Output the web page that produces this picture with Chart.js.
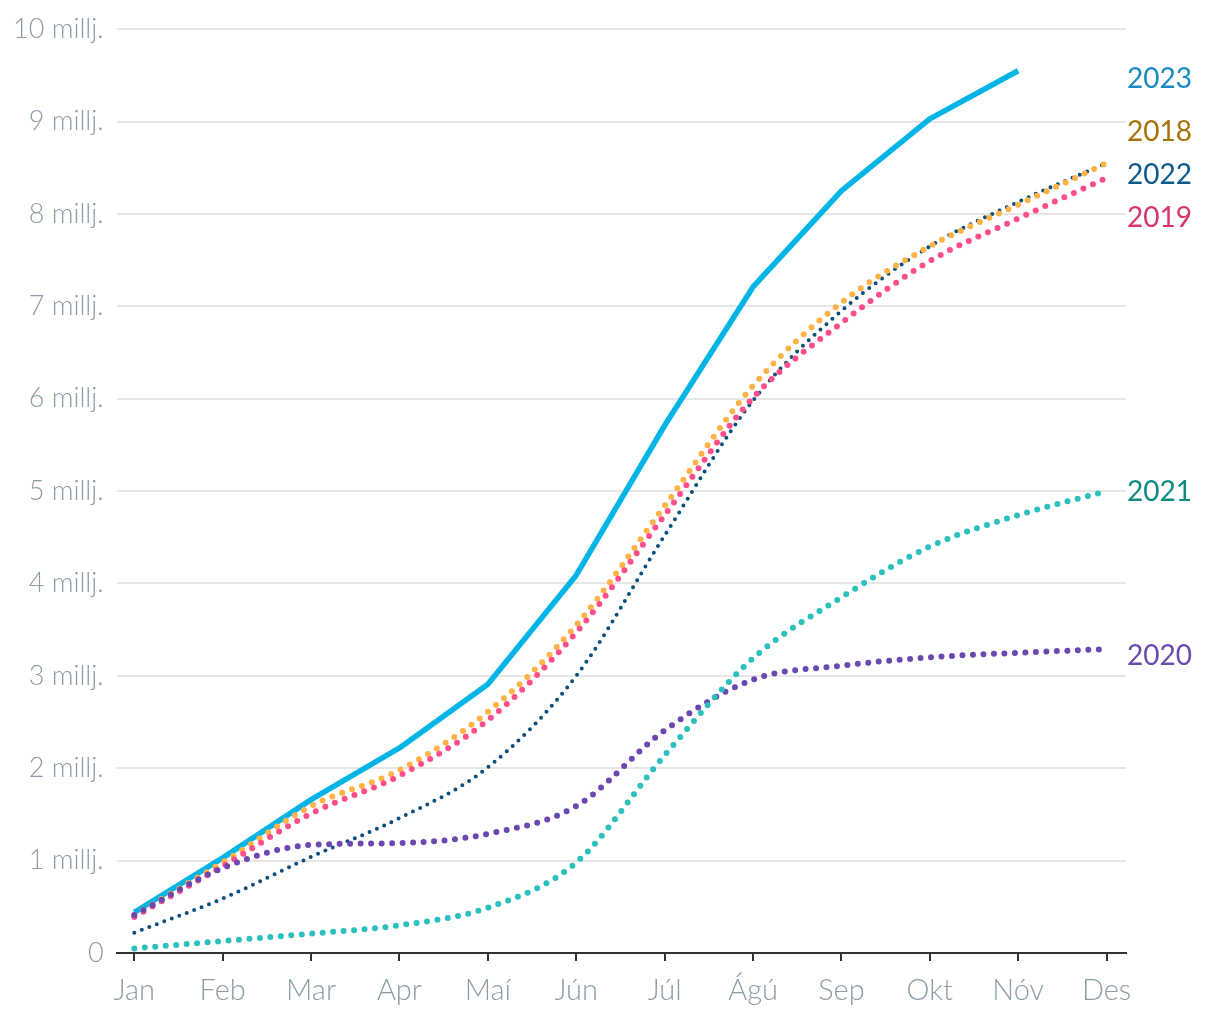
<!DOCTYPE html>
<html>
<head>
<meta charset="utf-8">
<script src="https://cdn.jsdelivr.net/npm/chart.js@4/dist/chart.umd.min.js"></script>
<style>
html,body{margin:0;padding:0;background:#fff;}
#wrap{width:1220px;height:1020px;position:relative;}
</style>
</head>
<body>
<div id="wrap"><canvas id="c"></canvas></div>
<script>
const months = ['Jan','Feb','Mar','Apr','Maí','Jún','Júl','Ágú','Sep','Okt','Nóv','Des'];
const yTicks = [0,1,2,3,4,5,6,7,8,9,10];
const s2023 = [0.44,1.03,1.66,2.22,2.91,4.09,5.71,7.21,8.25,9.03,9.55];
const s2018 = [0.41,0.98,1.59,1.98,2.61,3.55,4.84,6.14,7.04,7.65,8.10,8.55];
const s2019 = [0.39,0.94,1.51,1.92,2.52,3.47,4.74,6.01,6.82,7.49,7.95,8.39];
const s2022 = [0.22,0.59,1.04,1.46,2.01,3.00,4.52,5.98,6.95,7.65,8.13,8.55];
const s2020 = [0.41,0.92,1.17,1.19,1.29,1.59,2.41,2.96,3.11,3.20,3.25,3.29];
const s2021 = [0.05,0.13,0.21,0.30,0.49,0.98,2.14,3.19,3.85,4.40,4.74,5.00];
const seriesNames = ['2023','2018','2022','2019','2021','2020'];
const labelValues = [9.46,8.89,8.42,7.96,4.99,3.21];
const labelColors = ['#1a8abf','#a8720a','#0c5a8a','#d9336b','#0e8a84','#6a4aae'];

const pts = arr => arr.map((v,i)=>({x:i,y:v}));

const endLabels = {
  id:'endLabels',
  afterDatasetsDraw(chart){
    const {ctx, chartArea, scales:{y}} = chart;
    ctx.save();
    ctx.font = '400 28px Lato';
    ctx.textBaseline = 'middle';
    ctx.textAlign = 'left';
    seriesNames.forEach((n,i)=>{
      ctx.fillStyle = labelColors[i];
      ctx.fillText(n, chartArea.right + 1, y.getPixelForValue(labelValues[i]));
    });
    ctx.restore();
  }
};

const dotted = (label, data, color, w, gap) => ({
  label, data: pts(data), borderColor: color, backgroundColor: color,
  borderWidth: w, borderDash: [0, gap], borderCapStyle: 'round',
  pointRadius: 0, cubicInterpolationMode: 'monotone', fill: false
});

new Chart(document.getElementById('c'), {
  type: 'line',
  data: {
    datasets: [
      dotted('2021', s2021, '#2bbfbd', 6, 10.5),
      dotted('2020', s2020, '#6b48b0', 6, 10.5),
      dotted('2019', s2019, '#ff4f8b', 6, 10.5),
      dotted('2018', s2018, '#ffb347', 6, 10.5),
      dotted('2022', s2022, '#0b4f7c', 4, 8),
      {label:'2023', data: pts(s2023), borderColor:'#00b4e6', borderWidth:5.5,
       pointRadius:0, tension:0, borderJoinStyle:'round', fill:false}
    ]
  },
  options: {
    responsive: true,
    maintainAspectRatio: false,
    animation: false,
    layout: {padding: {left: 0, right: 94, top: 16, bottom: 0}},
    plugins: {legend:{display:false}, tooltip:{enabled:false}},
    scales: {
      x: {
        type: 'linear', min: -0.2, max: 11.22,
        ticks: {stepSize:1, includeBounds:false, autoSkip:false, maxRotation:0,
          color:'#8c9ca4', font:{family:'Lato', weight:'300', size:29, lineHeight:1}, padding:15,
          callback: v => months[v] ?? ''},
        grid: {drawOnChartArea:false, drawTicks:true, tickLength:8, color:'#333', lineWidth:2},
        border: {display:true, color:'#333', width:2}
      },
      y: {
        min: 0, max: 10,
        afterBuildTicks: ax => { ax.ticks = yTicks.map(v=>({value:v})); },
        ticks: {color:'#8c9ca4', font:{family:'Lato', weight:'300', size:27}, padding:13,
          callback: v => v === 0 ? '0' : v + ' millj.'},
        grid: {color:'#e6e6e6', lineWidth:2, drawTicks:false},
        border: {display:false}
      }
    }
  },
  plugins: [endLabels]
});
</script>
</body>
</html>
